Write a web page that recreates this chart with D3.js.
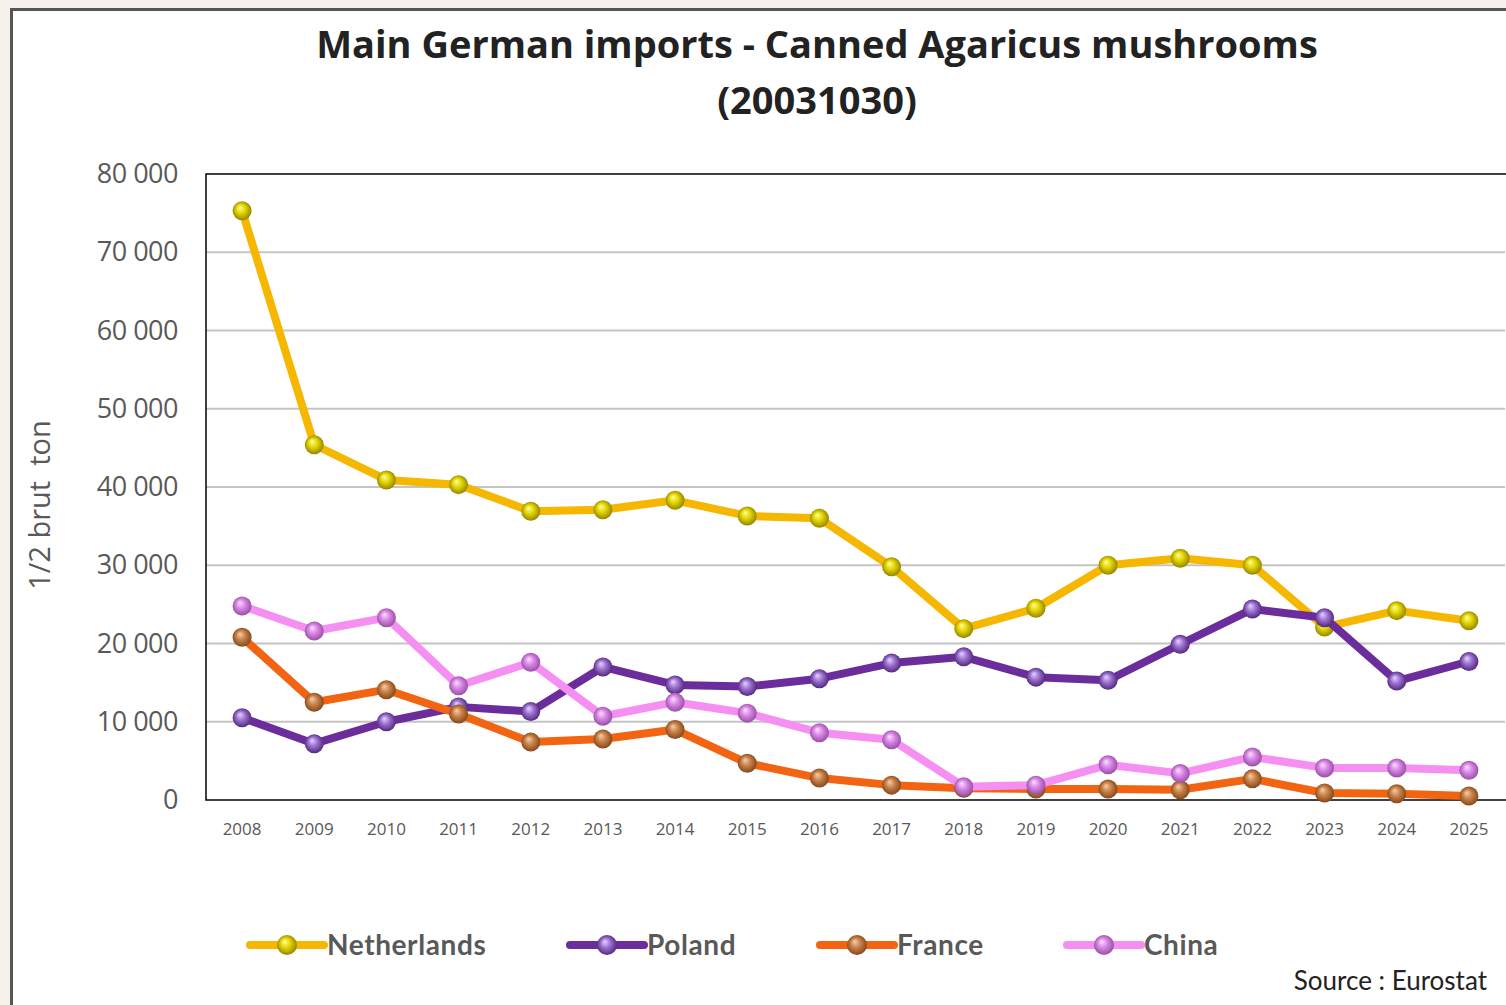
<!DOCTYPE html>
<html>
<head>
<meta charset="utf-8">
<script src="https://cdn.jsdelivr.net/npm/d3@7"></script>
<style>
  html, body { margin: 0; padding: 0; background: #f6f1eb; }
  svg { display: block; }
</style>
</head>
<body>
<svg id="chart" width="1506" height="1005"></svg>
<script>
// years on the x axis
var years = ["2008", "2009", "2010", "2011", "2012", "2013", "2014", "2015", "2016",
             "2017", "2018", "2019", "2020", "2021", "2022", "2023", "2024", "2025"];

// 1/2 brut ton
var netherlands = [75300, 45400, 40900, 40300, 36900, 37100, 38300, 36300, 36000,
                   29800, 21900, 24500, 30000, 30900, 30000, 22100, 24200, 22900];
var poland = [10500, 7200, 10000, 11900, 11300, 17000, 14700, 14500, 15500,
              17500, 18300, 15700, 15300, 19900, 24400, 23300, 15200, 17700];
var france = [20800, 12500, 14100, 11000, 7400, 7800, 9000, 4700, 2800,
              1900, 1500, 1400, 1400, 1300, 2700, 900, 800, 500];
var china = [24800, 21600, 23300, 14600, 17600, 10700, 12500, 11100, 8600,
             7700, 1700, 1900, 4500, 3400, 5500, 4100, 4100, 3800];

var yTicks = [0, 10000, 20000, 30000, 40000, 50000, 60000, 70000, 80000];

var series = [
    {name: "Netherlands", values: netherlands, line: "#f5b700", hi: "#ffff9a", base: "#e2d400", edge: "#8a7a00"},
    {name: "Poland", values: poland, line: "#6b2d9b", hi: "#e8d4ff", base: "#9a6fd0", edge: "#4a2070"},
    {name: "France", values: france, line: "#f26412", hi: "#f6d0a8", base: "#c98048", edge: "#7a4216"},
    {name: "China", values: china, line: "#f590f2", hi: "#fde0ff", base: "#d985e6", edge: "#8e4a9a"}
];

var svg = d3.select("#chart");
var margin = {left: 206, top: 174, right: 1, bottom: 205};
var W = 1506, H = 1005;

// outer white frame
svg.append("rect")
    .attr("x", 11.5).attr("y", 9.5)
    .attr("width", W + 10).attr("height", H + 10)
    .attr("fill", "#ffffff")
    .attr("stroke", "#555555")
    .attr("stroke-width", 3);

var defs = svg.append("defs");
series.forEach(function(s, i) {
    var g = defs.append("radialGradient")
        .attr("id", "ball" + i)
        .attr("cx", "50%").attr("cy", "50%").attr("r", "55%")
        .attr("fx", "38%").attr("fy", "32%");
    g.append("stop").attr("offset", "0%").attr("stop-color", s.hi);
    g.append("stop").attr("offset", "45%").attr("stop-color", s.base);
    g.append("stop").attr("offset", "100%").attr("stop-color", s.edge);
});

var x = d3.scaleBand()
    .domain(years)
    .range([margin.left, W - margin.right]);

var y = d3.scaleLinear()
    .domain([0, 80000])
    .range([H - margin.bottom, margin.top]);

var fmt = function(d) { return d3.format(",")(d).replace(/,/g, " "); };

// gridlines
svg.append("g")
    .selectAll("line")
    .data(yTicks.filter(function(d) { return d > 0 && d < 80000; }))
    .join("line")
    .attr("x1", margin.left).attr("x2", W - margin.right)
    .attr("y1", function(d) { return y(d); })
    .attr("y2", function(d) { return y(d); })
    .attr("stroke", "#c4c4c4")
    .attr("stroke-width", 2);

// plot frame
svg.append("rect")
    .attr("x", margin.left).attr("y", margin.top)
    .attr("width", W - margin.right - margin.left + 5)
    .attr("height", y(0) - margin.top)
    .attr("fill", "none")
    .attr("stroke", "#111")
    .attr("stroke-width", 1.6);

// y axis
var yAxis = svg.append("g")
    .attr("transform", "translate(" + margin.left + ",0)")
    .call(d3.axisLeft(y).tickValues(yTicks).tickFormat(fmt).tickSize(0).tickPadding(28));
yAxis.select(".domain").remove();
yAxis.selectAll("text")
    .attr("fill", "#595959")
    .style("font-family", "'Open Sans', sans-serif")
    .style("font-size", "27px")
    .style("letter-spacing", "-0.5px");

// x axis
var xAxis = svg.append("g")
    .attr("transform", "translate(0," + y(0) + ")")
    .call(d3.axisBottom(x).tickSize(0).tickPadding(23));
xAxis.select(".domain").remove();
xAxis.selectAll("text")
    .attr("fill", "#595959")
    .style("font-family", "'Open Sans', sans-serif")
    .style("font-size", "17px");

// y axis title
svg.append("text")
    .attr("transform", "translate(50,505) rotate(-90)")
    .attr("text-anchor", "middle")
    .attr("fill", "#595959")
    .style("font-family", "'Open Sans', sans-serif")
    .style("font-size", "29px")
    .style("white-space", "pre")
    .text("1/2 brut  ton");

// title
var title = svg.append("text")
    .attr("text-anchor", "middle")
    .attr("fill", "#222")
    .style("font-family", "'Open Sans', sans-serif")
    .style("font-weight", "bold")
    .style("font-size", "38px");
title.append("tspan").attr("x", 817).attr("y", 58).text("Main German imports - Canned Agaricus mushrooms");
title.append("tspan").attr("x", 817).attr("y", 114).text("(20031030)");

var line = d3.line()
    .x(function(d, i) { return x(years[i]) + x.bandwidth() / 2; })
    .y(function(d) { return y(d); });

series.forEach(function(s, i) {
    var g = svg.append("g");
    g.append("path")
        .datum(s.values)
        .attr("d", line)
        .attr("fill", "none")
        .attr("stroke", s.line)
        .attr("stroke-width", 8)
        .attr("stroke-linejoin", "round");
    g.selectAll("circle")
        .data(s.values)
        .join("circle")
        .attr("cx", function(d, j) { return x(years[j]) + x.bandwidth() / 2; })
        .attr("cy", function(d) { return y(d); })
        .attr("r", 9.5)
        .attr("fill", "url(#ball" + i + ")");
});

// legend
var legendX = [250, 570, 820, 1067];
var legend = svg.append("g");
series.forEach(function(s, i) {
    var lg = legend.append("g").attr("transform", "translate(" + legendX[i] + ",945)");
    lg.append("line")
        .attr("x1", 0).attr("x2", 74)
        .attr("stroke", s.line)
        .attr("stroke-width", 8)
        .attr("stroke-linecap", "round");
    lg.append("circle")
        .attr("cx", 37).attr("r", 10)
        .attr("fill", "url(#ball" + i + ")");
    lg.append("text")
        .attr("x", 77).attr("y", 10)
        .attr("fill", "#595959")
        .style("font-family", "Lato, sans-serif")
        .style("font-weight", "bold")
        .style("font-size", "28px")
        .style("letter-spacing", "0.6px")
        .text(s.name);
});

// source
svg.append("text")
    .attr("x", 1487).attr("y", 990)
    .attr("text-anchor", "end")
    .attr("fill", "#222")
    .style("font-family", "Lato, sans-serif")
    .style("font-size", "26px")
    .text("Source : Eurostat");
</script>
</body>
</html>
